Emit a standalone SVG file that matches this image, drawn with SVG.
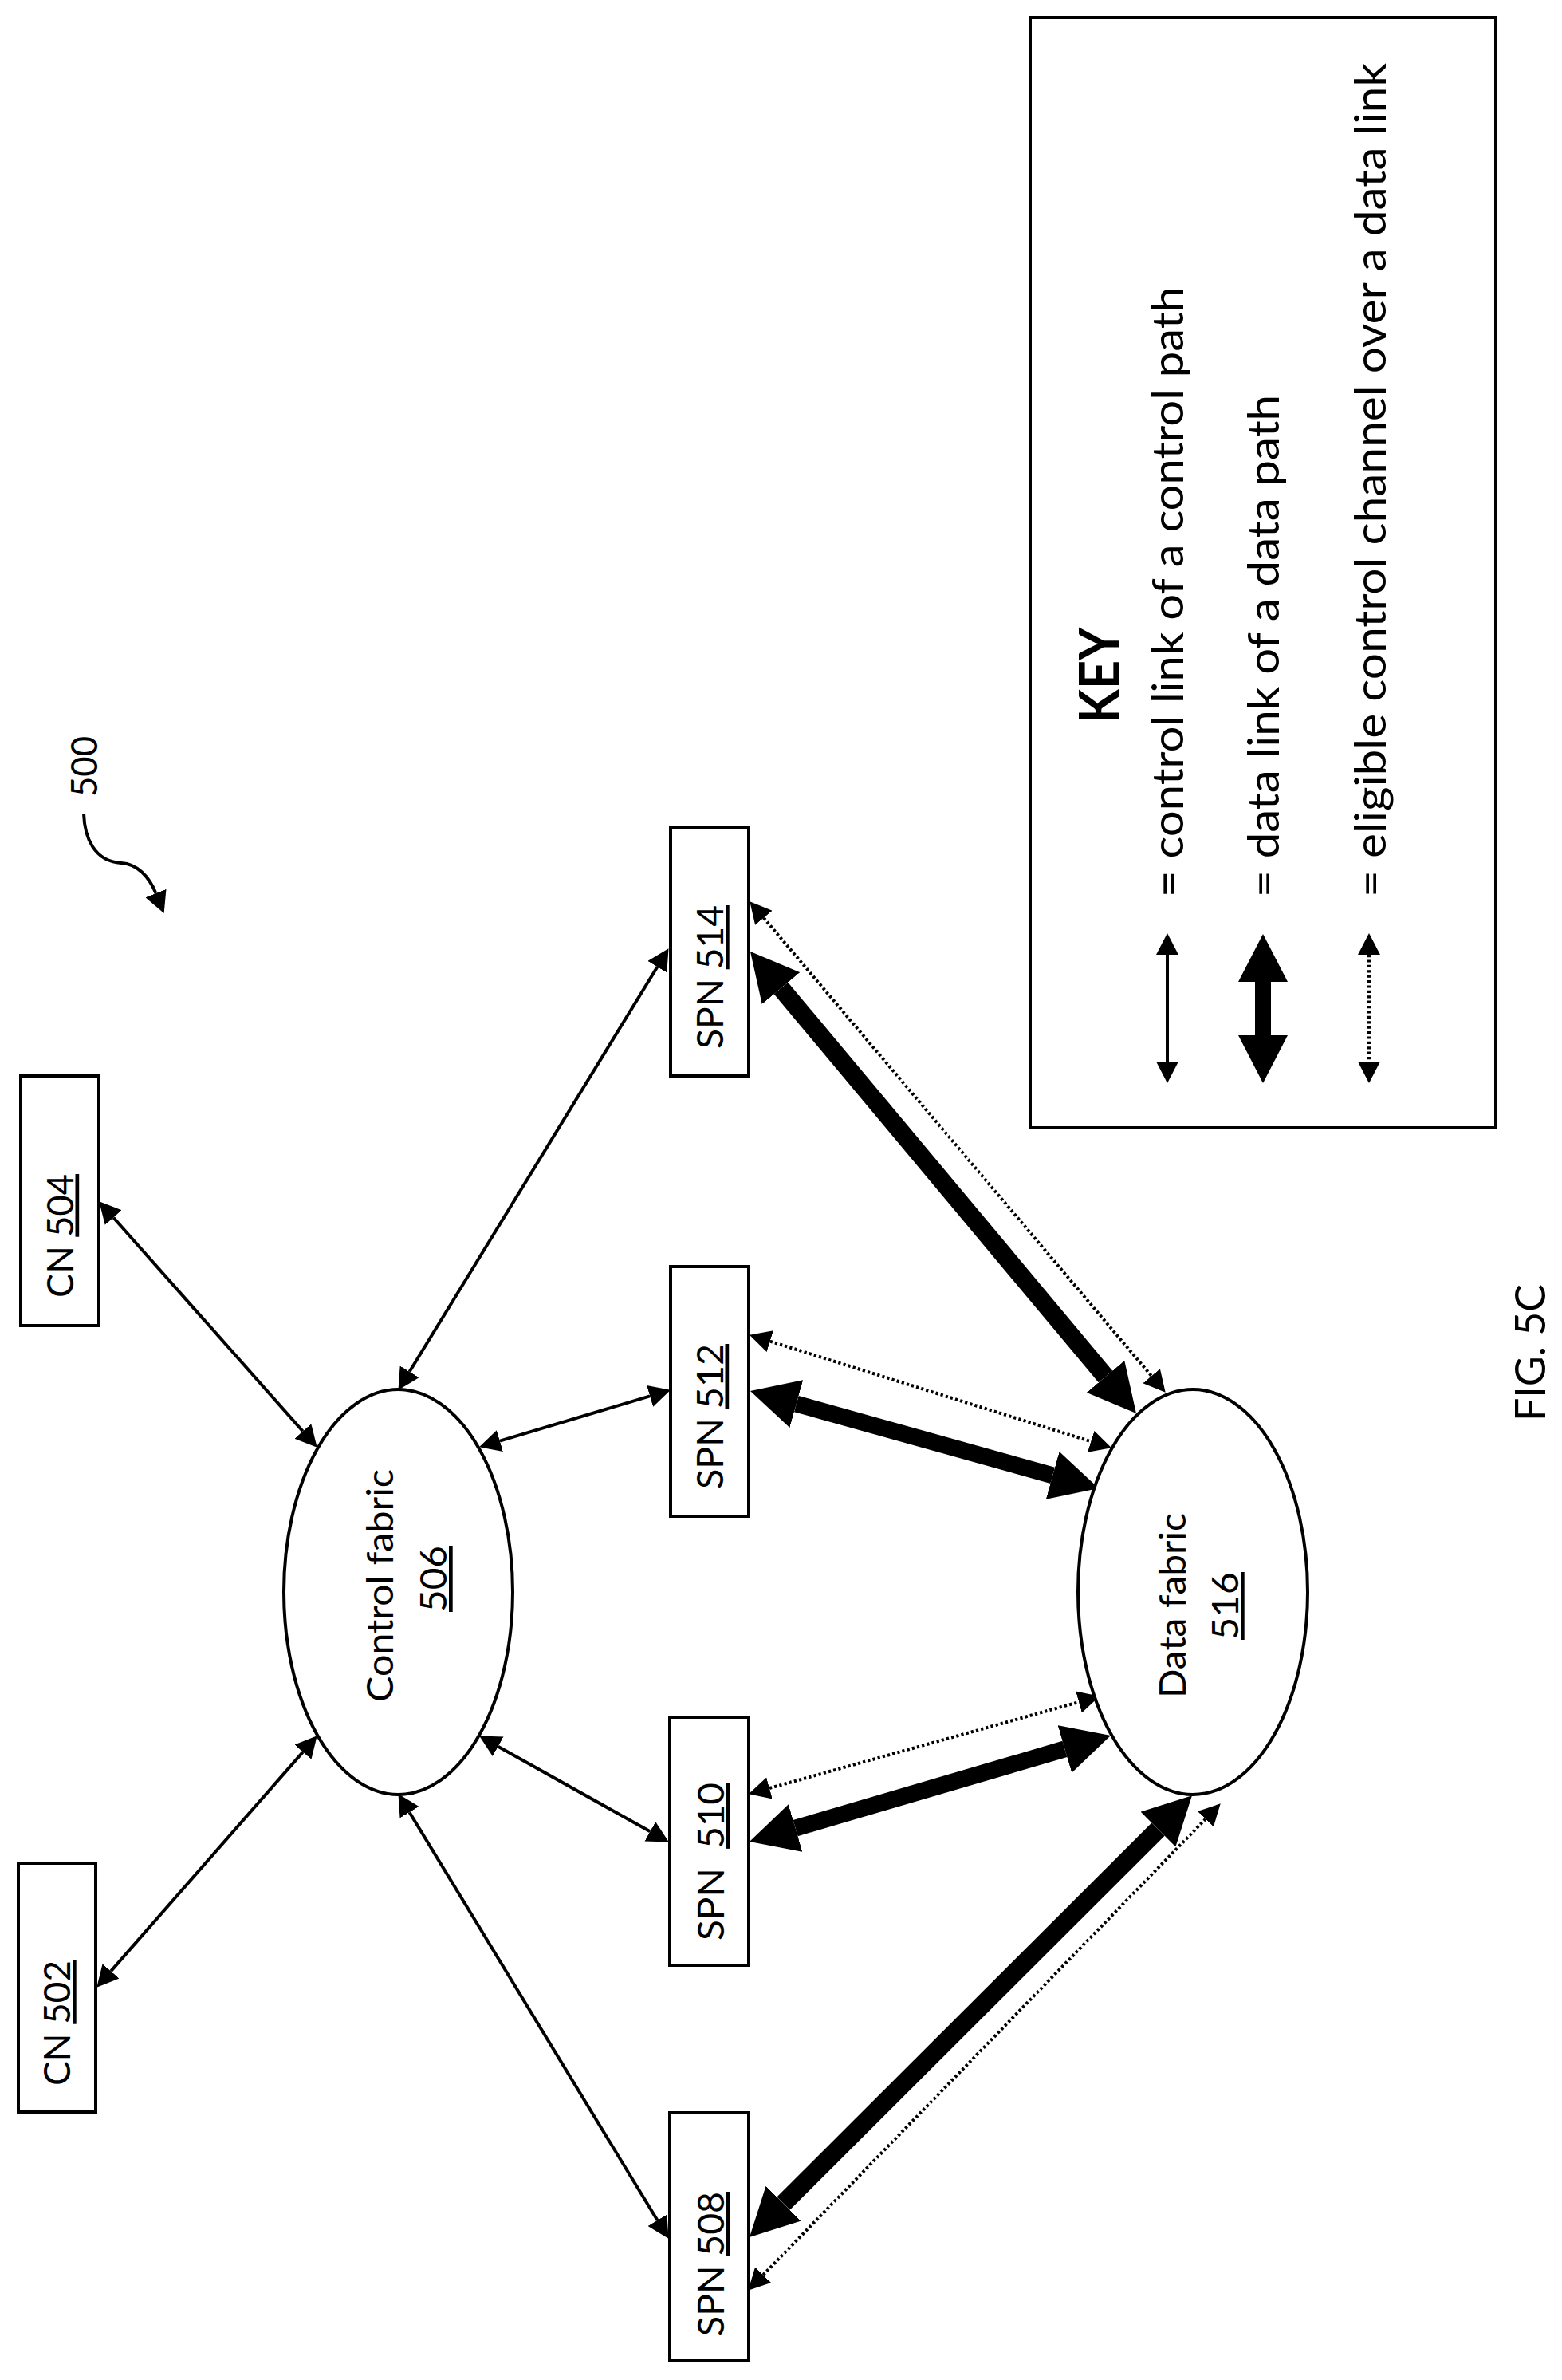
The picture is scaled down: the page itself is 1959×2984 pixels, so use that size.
<svg xmlns="http://www.w3.org/2000/svg" width="1959" height="2984" viewBox="0 0 1959 2984">
<style>
text{font-family:"Lato","Open Sans","Liberation Sans",sans-serif;fill:#000;font-size:47px;white-space:pre}
.u{text-decoration:underline;text-decoration-thickness:5px;text-underline-offset:6px;text-decoration-skip-ink:none}
.k{font-size:54px}
.b{fill:#fff;stroke:#000;stroke-width:4}
.c{fill:none;stroke:#000;stroke-width:4;marker-start:url(#thin);marker-end:url(#thin)}
.d{fill:none;stroke:#000;stroke-width:20;marker-start:url(#thick);marker-end:url(#thick)}
.w{stroke-width:23}
.e{fill:none;stroke:#000;stroke-width:4;stroke-dasharray:3.2 3.2;marker-start:url(#thin);marker-end:url(#thin)}
</style>
<defs>
<marker id="thin" markerUnits="userSpaceOnUse" markerWidth="28" markerHeight="28" refX="0" refY="14" orient="auto-start-reverse"><path d="M0,0L27,14L0,28z" fill="#000"/></marker>
<marker id="thick" markerUnits="userSpaceOnUse" markerWidth="62" markerHeight="62" refX="0" refY="31" orient="auto-start-reverse"><path d="M0,0L60,31L0,62z" fill="#000"/></marker>
</defs>
<rect width="1959" height="2984" fill="#fff"/>
<g id="connectors">
<line class="c" x1="142.2" y1="1526.5" x2="379.8" y2="1794.5"/>
<line class="c" x1="139.1" y1="2471.4" x2="379.9" y2="2196.6"/>
<line class="c" x1="824.4" y1="1212.2" x2="513.6" y2="1719.8"/>
<line class="c" x1="815.1" y1="1750.4" x2="626.9" y2="1806.6"/>
<line class="c" x1="815.3" y1="2296.3" x2="624.7" y2="2189.7"/>
<line class="c" x1="824.5" y1="2783.8" x2="513.5" y2="2272.2"/>
<line class="d w" x1="979.5" y1="1239" x2="1386.5" y2="1726"/>
<line class="d" x1="998.8" y1="1760.1" x2="1320.2" y2="1849.9" style="stroke-width:21"/>
<line class="d" x1="997.6" y1="2292.1" x2="1335.4" y2="2192.9" style="stroke-width:21"/>
<line class="d w" x1="982.5" y1="2762.6" x2="1452.5" y2="2293.6"/>
<line class="e" x1="957.8" y1="1150.8" x2="1444.2" y2="1725.2"/>
<line class="e" x1="965.8" y1="1681.7" x2="1368.2" y2="1807.3"/>
<line class="e" x1="965" y1="2242" x2="1353" y2="2134"/>
<line class="e" x1="957.1" y1="2852.3" x2="1511.9" y2="2280.7"/>
<path fill="none" stroke="#000" stroke-width="4" marker-end="url(#thin)" d="M105,1020C106,1050 118,1080 152,1082C172,1083 187,1099 195.5,1120"/>
</g>
<g id="cn502"><rect class="b" x="23" y="2336" width="97" height="312"/><text transform="translate(88,2615) rotate(-90)" textLength="157" lengthAdjust="spacingAndGlyphs">CN <tspan class="u">502</tspan></text></g>
<g id="cn504"><rect class="b" x="26" y="1349" width="98" height="313"/><text transform="translate(91.5,1627) rotate(-90)" textLength="155" lengthAdjust="spacingAndGlyphs">CN <tspan class="u">504</tspan></text></g>
<g id="control-fabric"><ellipse class="b" cx="499.5" cy="1996" rx="143.5" ry="254"/><text transform="translate(493,2134) rotate(-90)" textLength="292" lengthAdjust="spacingAndGlyphs">Control fabric</text><text class="u" transform="translate(560,2021) rotate(-90)" textLength="83" lengthAdjust="spacingAndGlyphs">506</text></g>
<g id="data-fabric"><ellipse class="b" cx="1496" cy="1996" rx="144" ry="254"/><text transform="translate(1487,2129) rotate(-90)" textLength="232" lengthAdjust="spacingAndGlyphs">Data fabric</text><text class="u" transform="translate(1553,2056) rotate(-90)" textLength="85" lengthAdjust="spacingAndGlyphs">516</text></g>
<g id="spn514"><rect class="b" x="841" y="1037" width="98" height="312"/><text transform="translate(907,1315) rotate(-90)" textLength="180" lengthAdjust="spacingAndGlyphs">SPN <tspan class="u">514</tspan></text></g>
<g id="spn512"><rect class="b" x="841" y="1588" width="98" height="313"/><text transform="translate(906.5,1867) rotate(-90)" textLength="182" lengthAdjust="spacingAndGlyphs">SPN <tspan class="u">512</tspan></text></g>
<g id="spn510"><rect class="b" x="840" y="2153" width="99" height="311"/><text transform="translate(908,2433) rotate(-90)" textLength="198" lengthAdjust="spacingAndGlyphs">SPN  <tspan class="u">510</tspan></text></g>
<g id="spn508"><rect class="b" x="840" y="2649" width="99" height="311"/><text transform="translate(908,2929) rotate(-90)" textLength="181" lengthAdjust="spacingAndGlyphs">SPN <tspan class="u">508</tspan></text></g>
<g id="label-500"><text transform="translate(122,999) rotate(-90)" textLength="76" lengthAdjust="spacingAndGlyphs">500</text></g>
<g id="key">
<rect class="b" x="1292" y="22" width="584" height="1392"/>
<text transform="translate(1404,907) rotate(-90)" style="font-size:70px;font-weight:700" textLength="120" lengthAdjust="spacingAndGlyphs">KEY</text>
<line class="c" x1="1464" y1="1197" x2="1464" y2="1331"/>
<line class="d" x1="1584" y1="1231" x2="1584" y2="1298"/>
<line class="e" x1="1717" y1="1197" x2="1717" y2="1331"/>
<text class="k" transform="translate(1484,1125) rotate(-90)" textLength="766" lengthAdjust="spacingAndGlyphs">= control link of a control path</text>
<text class="k" transform="translate(1604,1125) rotate(-90)" textLength="630" lengthAdjust="spacingAndGlyphs">= data link of a data path</text>
<text class="k" transform="translate(1738,1125) rotate(-90)" textLength="1046" lengthAdjust="spacingAndGlyphs">= eligible control channel over a data link</text>
</g>
<g id="fig-label"><text transform="translate(1938,1782) rotate(-90)" style="font-size:53px" textLength="172" lengthAdjust="spacingAndGlyphs">FIG. 5C</text></g>
</svg>
